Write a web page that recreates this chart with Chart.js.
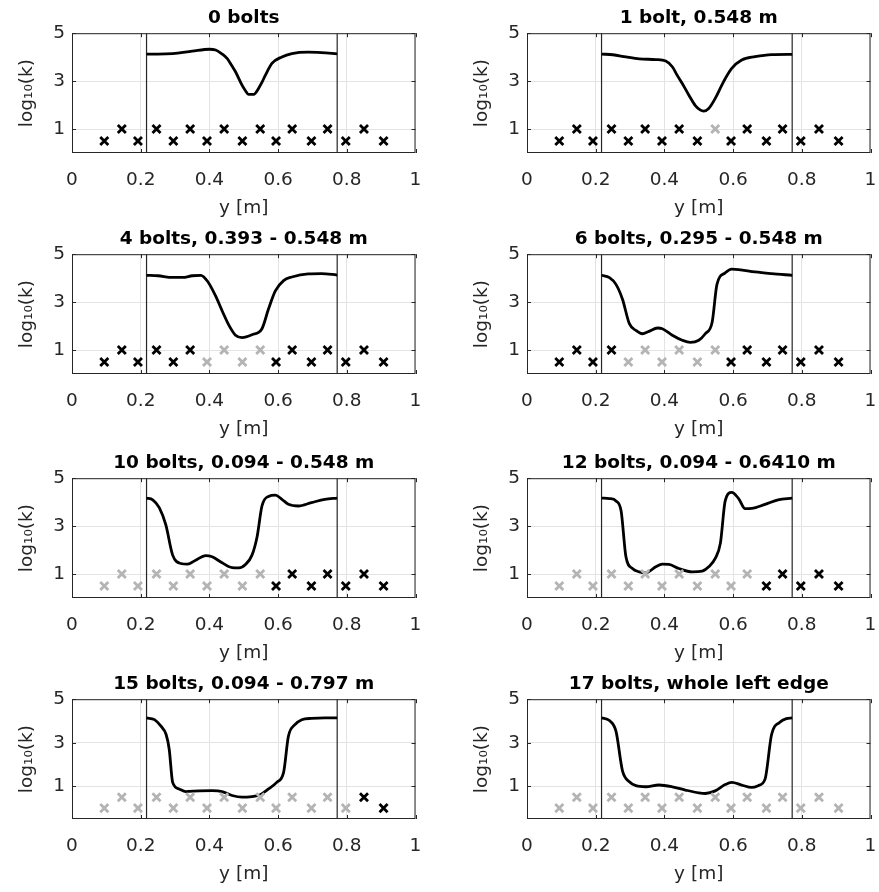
<!DOCTYPE html>
<html>
<head>
<meta charset="utf-8">
<script src="https://cdn.jsdelivr.net/npm/chart.js@4.4.1/dist/chart.umd.min.js"></script>
<style>
  html, body { margin: 0; padding: 0; background: #fff; }
  #wrap { position: relative; width: 879px; height: 892px; }
  #wrap canvas { position: absolute; }
</style>
</head>
<body>
<div id="wrap"></div>
<script>
// bolt positions along the left edge [m]
const boltPos = [0.094, 0.145, 0.192, 0.246, 0.295, 0.344, 0.393, 0.443, 0.496,
                 0.548, 0.594, 0.641, 0.697, 0.744, 0.797, 0.850, 0.907];
const markUpper = [0.5, 1, 0.5, 1, 0.5, 1, 0.5, 1, 0.5, 1, 0.5, 1, 0.5, 1, 0.5, 1, 0.5];
const markLower = [0, 0.5, 0, 0.5, 0, 0.5, 0, 0.5, 0, 0.5, 0, 0.5, 0, 0.5, 0, 0.5, 0];

const panelTitles = [
  "0 bolts",
  "1 bolt, 0.548 m",
  "4 bolts, 0.393 - 0.548 m",
  "6 bolts, 0.295 - 0.548 m",
  "10 bolts, 0.094 - 0.548 m",
  "12 bolts, 0.094 - 0.6410 m",
  "15 bolts, 0.094 - 0.797 m",
  "17 bolts, whole left edge"
];

// indices of the loosened bolts (drawn grey)
const looseBolts = [
  [],
  [9],
  [6, 7, 8, 9],
  [4, 5, 6, 7, 8, 9],
  [0, 1, 2, 3, 4, 5, 6, 7, 8, 9],
  [0, 1, 2, 3, 4, 5, 6, 7, 8, 9, 10, 11],
  [0, 1, 2, 3, 4, 5, 6, 7, 8, 9, 10, 11, 12, 13, 14],
  [0, 1, 2, 3, 4, 5, 6, 7, 8, 9, 10, 11, 12, 13, 14, 15, 16]
];

const edgeX = [0.217, 0.772];
const yMins = [0, 0, 0, 0, 0, 0, -0.5, -0.5];
const yMax = 5;
const xTicks = [0, 0.2, 0.4, 0.6, 0.8, 1];
const yTicks = [1, 3, 5];

// identified stiffness log10(k) along the plate edge
const y0 = [0.217, 0.25, 0.293, 0.35, 0.40, 0.418, 0.435, 0.452, 0.465, 0.476, 0.495, 0.505,
            0.514, 0.529, 0.543, 0.553, 0.563, 0.582, 0.611, 0.640, 0.688, 0.726, 0.772];
const k0 = [4.13, 4.13, 4.15, 4.25, 4.33, 4.30, 4.15, 3.94, 3.65, 3.39, 2.83, 2.60,
            2.45, 2.45, 2.69, 2.95, 3.25, 3.74, 4.01, 4.15, 4.21, 4.19, 4.14];

const y1 = [0.217, 0.25, 0.288, 0.327, 0.375, 0.404, 0.423, 0.437, 0.452, 0.471, 0.49,
            0.504, 0.514, 0.529, 0.548, 0.572, 0.596, 0.625, 0.664, 0.712, 0.772];
const k1 = [4.13, 4.10, 4.01, 3.93, 3.90, 3.84, 3.60, 3.25, 2.90, 2.42, 1.98,
            1.80, 1.75, 1.86, 2.28, 2.97, 3.53, 3.88, 4.02, 4.11, 4.12];

const y2 = [0.217, 0.25, 0.293, 0.322, 0.35, 0.375, 0.394, 0.418, 0.437, 0.457, 0.476,
            0.495, 0.524, 0.553, 0.572, 0.592, 0.616, 0.64, 0.688, 0.726, 0.772];
const k2 = [4.12, 4.10, 4.03, 4.03, 4.10, 4.12, 3.88, 3.26, 2.64, 2.03, 1.62,
            1.52, 1.64, 1.89, 2.71, 3.47, 3.90, 4.05, 4.18, 4.19, 4.13];

const y3 = [0.217, 0.24, 0.259, 0.278, 0.298, 0.317, 0.336, 0.355, 0.38, 0.394, 0.423, 0.452,
            0.476, 0.5, 0.519, 0.539, 0.553, 0.577, 0.596, 0.616, 0.664, 0.712, 0.772];
const k3 = [4.12, 4.02, 3.74, 3.12, 2.10, 1.82, 1.68, 1.78, 1.92, 1.89, 1.62, 1.41,
            1.32, 1.41, 1.68, 2.16, 3.74, 4.22, 4.38, 4.36, 4.26, 4.19, 4.12];

const y4 = [0.217, 0.235, 0.254, 0.273, 0.293, 0.317, 0.336, 0.36, 0.389, 0.408, 0.437, 0.466, 0.486,
            0.505, 0.524, 0.539, 0.553, 0.572, 0.592, 0.611, 0.63, 0.659, 0.697, 0.736, 0.772];
const k4 = [4.17, 4.10, 3.77, 3.06, 1.79, 1.44, 1.41, 1.58, 1.77, 1.72, 1.47, 1.27, 1.26,
            1.40, 1.79, 2.57, 3.84, 4.24, 4.29, 4.12, 3.91, 3.84, 3.98, 4.12, 4.17];

const y5 = [0.217, 0.24, 0.259, 0.274, 0.288, 0.307, 0.327, 0.346, 0.375, 0.394, 0.413, 0.442, 0.481,
            0.51, 0.529, 0.548, 0.563, 0.577, 0.596, 0.616, 0.635, 0.654, 0.693, 0.731, 0.772];
const k5 = [4.17, 4.15, 4.05, 3.63, 1.72, 1.23, 1.09, 1.05, 1.30, 1.41, 1.40, 1.23, 1.09,
            1.12, 1.30, 1.65, 2.29, 4.05, 4.41, 4.15, 3.73, 3.74, 3.91, 4.10, 4.17];

const y6 = [0.217, 0.24, 0.259, 0.274, 0.283, 0.293, 0.312, 0.331, 0.37, 0.408, 0.437, 0.466,
            0.495, 0.524, 0.548, 0.572, 0.596, 0.616, 0.63, 0.649, 0.669, 0.697, 0.736, 0.772];
const k6 = [4.14, 4.06, 3.76, 3.38, 2.70, 1.18, 0.88, 0.76, 0.79, 0.80, 0.76, 0.58,
            0.50, 0.53, 0.61, 0.88, 1.18, 1.64, 3.30, 3.83, 4.06, 4.12, 4.14, 4.14];

const y7 = [0.217, 0.24, 0.259, 0.278, 0.298, 0.317, 0.346, 0.384, 0.423, 0.461, 0.5, 0.519,
            0.548, 0.577, 0.596, 0.625, 0.654, 0.673, 0.693, 0.712, 0.736, 0.755, 0.772];
const k7 = [4.14, 4.02, 3.53, 1.71, 1.21, 1.03, 0.98, 1.06, 0.98, 0.83, 0.70, 0.67,
            0.79, 1.08, 1.18, 1.06, 0.95, 1.03, 1.33, 3.38, 3.94, 4.11, 4.14];

const curveYs = [y0, y1, y2, y3, y4, y5, y6, y7];
const curveKs = [k0, k1, k2, k3, k4, k5, k6, k7];
const panelMarks = [markUpper, markUpper, markUpper, markUpper, markUpper, markUpper, markLower, markLower];

const FONT = "'DejaVu Sans', sans-serif";
const AXIS = "#262626";
const GRID = "#e3e3e3";
const GREY = "#b4b4b4";

Chart.defaults.font.family = FONT;
Chart.defaults.font.size = 18.5;
Chart.defaults.color = AXIS;

// box around the axes, with MATLAB-style inner tick marks
const axesBox = {
  id: "axesBox",
  afterDatasetsDraw(chart) {
    const { ctx, chartArea: a, scales } = chart;
    ctx.save();
    ctx.strokeStyle = AXIS;
    ctx.lineWidth = 1;
    ctx.beginPath();
    xTicks.forEach(v => {
      const px = Math.round(scales.x.getPixelForValue(v)) + 0.5;
      ctx.moveTo(px, a.bottom); ctx.lineTo(px, a.bottom - 4);
      ctx.moveTo(px, a.top); ctx.lineTo(px, a.top + 4);
    });
    yTicks.forEach(v => {
      const py = Math.round(scales.y.getPixelForValue(v)) + 0.5;
      ctx.moveTo(a.left, py); ctx.lineTo(a.left + 4, py);
      ctx.moveTo(a.right, py); ctx.lineTo(a.right - 4, py);
    });
    ctx.stroke();
    ctx.strokeRect(a.left + 0.5, a.top + 0.5, a.right - a.left - 1, a.bottom - a.top - 1);
    ctx.restore();
  }
};

const colLeft = [0, 455];
const rowTop = [0, 221, 445, 666];
const wrap = document.getElementById("wrap");

panelTitles.forEach((title, i) => {
  const cv = document.createElement("canvas");
  cv.width = 424;
  cv.height = 220;
  cv.style.left = colLeft[i % 2] + "px";
  cv.style.top = rowTop[Math.floor(i / 2)] + "px";
  wrap.appendChild(cv);

  const yMin = yMins[i];
  const marks = panelMarks[i];
  const markColors = boltPos.map((b, j) => looseBolts[i].includes(j) ? GREY : "#000");

  const datasets = [
    {
      type: "scatter",
      data: boltPos.map((b, j) => ({ x: b, y: marks[j] })),
      pointStyle: "crossRot",
      pointRadius: 5.7,
      pointBorderWidth: 2.8,
      pointBorderColor: markColors,
      pointBackgroundColor: markColors
    },
    {
      type: "line",
      data: curveYs[i].map((x, j) => ({ x: x, y: curveKs[i][j] })),
      borderColor: "#000",
      borderWidth: 2.8,
      pointRadius: 0,
      cubicInterpolationMode: "monotone",
      fill: false
    }
  ];
  edgeX.forEach(e => {
    datasets.push({
      type: "line",
      data: [{ x: e, y: yMin }, { x: e, y: yMax }],
      borderColor: AXIS,
      borderWidth: 1.2,
      pointRadius: 0,
      fill: false
    });
  });

  new Chart(cv, {
    type: "scatter",
    data: { datasets },
    plugins: [axesBox],
    options: {
      responsive: false,
      animation: false,
      devicePixelRatio: 1,
      events: [],
      layout: { padding: { left: 0, right: 6, top: 0, bottom: 0 } },
      plugins: {
        legend: { display: false },
        tooltip: { enabled: false },
        title: {
          display: true,
          text: title,
          fullSize: false,
          color: "#000",
          font: { size: 18.5, weight: "bold", lineHeight: 1.2 },
          padding: { top: 7, bottom: 4 }
        }
      },
      scales: {
        x: {
          type: "linear",
          min: 0,
          max: 1,
          afterBuildTicks: s => { s.ticks = xTicks.map(v => ({ value: v })); },
          afterFit: s => { s.height = 67; s.paddingLeft = 0; s.paddingRight = 0; },
          ticks: { padding: 16, autoSkip: false, maxRotation: 0, callback: v => String(v) },
          grid: { color: GRID, drawTicks: false },
          border: { display: false },
          title: { display: true, text: "y [m]", padding: { top: 0, bottom: 1 } }
        },
        y: {
          type: "linear",
          min: yMin,
          max: yMax,
          afterBuildTicks: s => { s.ticks = yTicks.map(v => ({ value: v })); },
          afterFit: s => { s.width = 72; s.paddingTop = 0; s.paddingBottom = 0; },
          ticks: { padding: 7, autoSkip: false, callback: v => String(v) },
          grid: { color: GRID, drawTicks: false },
          border: { display: false },
          title: { display: true, text: "log₁₀(k)", padding: { top: 16, bottom: 0 } }
        }
      }
    }
  });
});
</script>
</body>
</html>
